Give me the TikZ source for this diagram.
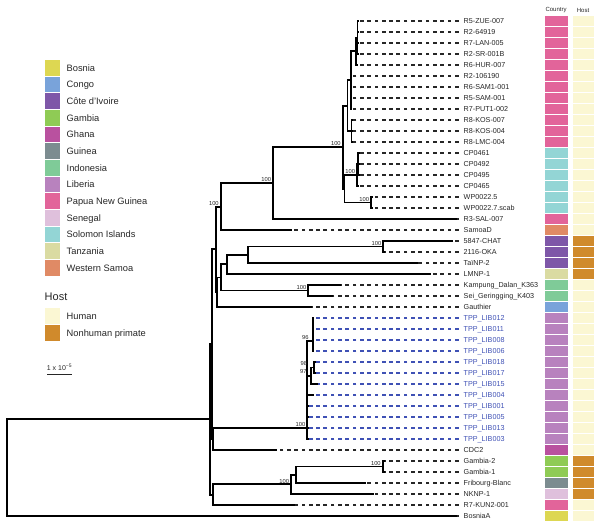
\documentclass[tikz,border=0pt]{standalone}
\usepackage{fontspec}
\setmainfont{Liberation Sans}
\definecolor{cBos}{HTML}{DDD752}
\definecolor{cCon}{HTML}{79A3DA}
\definecolor{cCI}{HTML}{7E57A8}
\definecolor{cGam}{HTML}{8FCB55}
\definecolor{cGha}{HTML}{B9519F}
\definecolor{cGui}{HTML}{7C8C90}
\definecolor{cInd}{HTML}{7FCB98}
\definecolor{cLib}{HTML}{B882BE}
\definecolor{cPNG}{HTML}{E2649A}
\definecolor{cSen}{HTML}{DFC0DC}
\definecolor{cSol}{HTML}{93D5D5}
\definecolor{cTan}{HTML}{DADBA2}
\definecolor{cWS}{HTML}{E08A65}
\definecolor{cHum}{HTML}{FBF7D3}
\definecolor{cNHP}{HTML}{D08A2C}
\definecolor{ink}{HTML}{262626}
\definecolor{libblue}{HTML}{3F51B5}
\begin{document}
\begin{tikzpicture}[x=1pt,y=-1pt,
  br/.style={line width=1.9pt, draw=black},
  dsh/.style={line width=1.1pt, dash pattern=on 3.7pt off 3.6pt},
  leaf/.style={anchor=west, inner sep=1pt, font=\fontsize{7.2}{8}\selectfont, text height=5.2pt, text depth=0pt},
  boot/.style={anchor=south east, inner sep=0.3pt, xshift=-1.5pt, yshift=0.8pt, font=\fontsize{5.8}{6}\selectfont, text=ink},
  bootp/.style={anchor=south east, inner sep=0.3pt, font=\fontsize{5.8}{6}\selectfont, text=ink},
  cell/.style={draw=white, line width=0.5pt},
  sw/.style={draw=white, line width=0.8pt},
  leg/.style={anchor=west, inner sep=0pt, font=\fontsize{9.3}{10}\selectfont, text=ink, text height=6.7pt, text depth=0pt},
  hdr/.style={inner sep=0pt, font=\fontsize{6}{6}\selectfont, text=ink}]
\useasboundingbox (0,0) rectangle (600,527);

% ---------- leaves, dashes, strips ----------
\foreach \r/\ex/\t/\cc/\hc/\lc in {
 1/359/R5-ZUE-007/cPNG/cHum/ink,
 2/359/R2-64919/cPNG/cHum/ink,
 3/359/R7-LAN-005/cPNG/cHum/ink,
 4/359/R2-SR-001B/cPNG/cHum/ink,
 5/357.5/R6-HUR-007/cPNG/cHum/ink,
 6/352/R2-106190/cPNG/cHum/ink,
 7/352/R6-SAM1-001/cPNG/cHum/ink,
 8/352/R5-SAM-001/cPNG/cHum/ink,
 9/352/R7-PUT1-002/cPNG/cHum/ink,
 10/352.5/R8-KOS-007/cPNG/cHum/ink,
 11/352.5/R8-KOS-004/cPNG/cHum/ink,
 12/352.5/R8-LMC-004/cPNG/cHum/ink,
 13/359.5/CP0461/cSol/cHum/ink,
 14/359.5/CP0492/cSol/cHum/ink,
 15/359.5/CP0495/cSol/cHum/ink,
 16/358.5/CP0465/cSol/cHum/ink,
 17/372.5/WP0022.5/cSol/cHum/ink,
 18/372.5/WP0022.7.scab/cSol/cHum/ink,
 19/457/R3-SAL-007/cPNG/cHum/ink,
 20/292/SamoaD/cWS/cHum/ink,
 21/453/5847-CHAT/cCI/cNHP/ink,
 22/385/2116-OKA/cCI/cNHP/ink,
 23/417.7/TaïNP-2/cCI/cNHP/ink,
 24/431/LMNP-1/cTan/cNHP/ink,
 25/340.5/Kampung\_Dalan\_K363/cInd/cHum/ink,
 26/332.5/Sei\_Geringging\_K403/cInd/cHum/ink,
 27/312/Gauthier/cCon/cHum/ink,
 28/313.8/TPP\_LIB012/cLib/cHum/libblue,
 29/313.8/TPP\_LIB011/cLib/cHum/libblue,
 30/313.8/TPP\_LIB008/cLib/cHum/libblue,
 31/313.8/TPP\_LIB006/cLib/cHum/libblue,
 32/315.5/TPP\_LIB018/cLib/cHum/libblue,
 33/315.5/TPP\_LIB017/cLib/cHum/libblue,
 34/318.3/TPP\_LIB015/cLib/cHum/libblue,
 35/314/TPP\_LIB004/cLib/cHum/libblue,
 36/308.5/TPP\_LIB001/cLib/cHum/libblue,
 37/308.5/TPP\_LIB005/cLib/cHum/libblue,
 38/308.5/TPP\_LIB013/cLib/cHum/libblue,
 39/308.5/TPP\_LIB003/cLib/cHum/libblue,
 40/277.3/CDC2/cGha/cHum/ink,
 41/384.5/Gambia-2/cGam/cNHP/ink,
 42/384.5/Gambia-1/cGam/cNHP/ink,
 43/366/Fribourg-Blanc/cGui/cNHP/ink,
 44/374.3/NKNP-1/cSen/cNHP/ink,
 45/295/R7-KUN2-001/cPNG/cHum/ink,
 46/457/BosniaA/cBos/cHum/ink}{
  \pgfmathsetmacro\yy{21+11*(\r-1)}
  \coordinate (e\r) at (\ex,\yy);
  \node[leaf,text=\lc] (l\r) at (462.5,\yy) {\t};
  \draw[dsh,draw=\lc] ([xshift=-4pt]l\r.west) -- (e\r);
  \draw[cell,fill=\cc] (544,{\yy-5.5}) rectangle (568,{\yy+5.5});
  \draw[cell,fill=\hc] (572,{\yy-5.5}) rectangle (594,{\yy+5.5});
}
\node[hdr] (hc) at (556,10) {Country};
\node[hdr] (hh) at (583,10) {Host};

% ---------- internal nodes ----------
\coordinate (Q2) at (357.5,37.5);
\coordinate (Q1) at (356.3,51.25);
\coordinate (Pa) at (351,80.1);
\coordinate (Pb) at (351.5,131);
\coordinate (PNG) at (347.5,105.6);
\coordinate (CPy) at (358.3,164);
\coordinate (CPx) at (357,175);
\coordinate (WP) at (371,202.5);
\coordinate (E) at (344.5,188.8);
\coordinate (D) at (342.7,147.2);
\coordinate (B) at (273,183.1);
\coordinate (A) at (220.7,206.6);
\coordinate (CI) at (383.3,246.5);
\coordinate (T1) at (248.3,254.75);
\coordinate (T2) at (227.3,264.4);
\coordinate (Ind) at (308.3,290.5);
\coordinate (T3) at (220.7,277.45);
\coordinate (T4) at (217.3,292.2);
\coordinate (V) at (215.7,249.4);
\coordinate (LU) at (312.7,341.4);
\coordinate (L1) at (314,367.5);
\coordinate (L2) at (310.7,375.75);
\coordinate (LM) at (307.3,427.7);
\coordinate (W) at (213.3,438.9);
\coordinate (U) at (212,344.15);
\coordinate (Gam) at (382.7,466.5);
\coordinate (G1) at (296,474.75);
\coordinate (G2) at (291,484.4);
\coordinate (G3) at (212.7,494.7);
\coordinate (I0) at (210,419.4);
\coordinate (Rt) at (7.3,467.7);

% ---------- branches ----------
\foreach \p/\c in {Q2/e1,Q2/e2,Q2/e3,Q2/e4,Q1/Q2,Q1/e5,
  Pa/Q1,Pa/e6,Pa/e7,Pa/e8,Pa/e9,Pb/e10,Pb/e11,Pb/e12,PNG/Pa,PNG/Pb,
  CPy/e13,CPy/e14,CPy/e15,CPx/CPy,CPx/e16,WP/e17,WP/e18,E/CPx,E/WP,
  D/PNG,D/E,B/D,B/e19,A/B,A/e20,
  CI/e21,CI/e22,T1/CI,T1/e23,T2/T1,T2/e24,Ind/e25,Ind/e26,T3/T2,T3/Ind,
  T4/T3,T4/e27,V/A,V/T4,
  LU/e28,LU/e29,LU/e30,LU/e31,L1/e32,L1/e33,L2/L1,L2/e34,
  LM/LU,LM/L2,LM/e35,LM/e36,LM/e37,LM/e38,LM/e39,W/LM,W/e40,U/V,U/W,
  Gam/e41,Gam/e42,G1/Gam,G1/e43,G2/G1,G2/e44,G3/G2,G3/e45,I0/U,I0/G3,
  Rt/I0,Rt/e46}{
  \draw[br] (\p) |- (\c);
}

% ---------- support values ----------
\node[boot] (bA) at (A) {100};
\node[boot] (bB) at (B) {100};
\node[boot] (bD) at (D) {100};
\node[boot] (bCP) at (CPx) {100};
\node[boot] (bWP) at (WP) {100};
\node[boot] (bCI) at (CI) {100};
\node[boot] (bInd) at (Ind) {100};
\node[boot] (bLM) at (LM) {100};
\node[boot] (bGam) at (Gam) {100};
\node[boot] (bG2) at (G2) {100};
\node[bootp] (bLU) at (309,340.3) {96};
\node[bootp] (bL1) at (307.5,365.8) {98};
\node[bootp] (bL2) at (307,374.3) {97};

% ---------- legend ----------
\foreach \k/\cc/\t in {0/cBos/Bosnia,1/cCon/Congo,2/cCI/Côte d’Ivoire,3/cGam/Gambia,
  4/cGha/Ghana,5/cGui/Guinea,6/cInd/Indonesia,7/cLib/Liberia,8/cPNG/Papua New Guinea,
  9/cSen/Senegal,10/cSol/Solomon Islands,11/cTan/Tanzania,12/cWS/Western Samoa}{
  \pgfmathsetmacro\yy{67.7+16.67*\k}
  \draw[sw,fill=\cc] (44.5,{\yy-8.3}) rectangle (60.5,{\yy+8.3});
  \node[leg] (lg\k) at (66.5,\yy) {\t};
}
\node[anchor=west, inner sep=0pt, font=\fontsize{11}{12}\selectfont, text=ink] (hosttitle) at (44.5,297) {Host};
\draw[sw,fill=cHum] (44.5,307.7) rectangle (60.5,324.3);
\node[leg] (lgh) at (66.5,316) {Human};
\draw[sw,fill=cNHP] (44.5,324.4) rectangle (60.5,341);
\node[leg] (lgn) at (66.5,332.7) {Nonhuman primate};

% ---------- scale bar ----------
\coordinate (sb1) at (47,374.3);
\coordinate (sb2) at (72,374.3);
\draw[line width=1.3pt, draw=ink] (sb1) -- (sb2);
\node[inner sep=0pt, font=\fontsize{7}{8}\selectfont, text=ink] (sbl) at (59.5,367) {1 x 10\textsuperscript{−5}};
\end{tikzpicture}
\end{document}
